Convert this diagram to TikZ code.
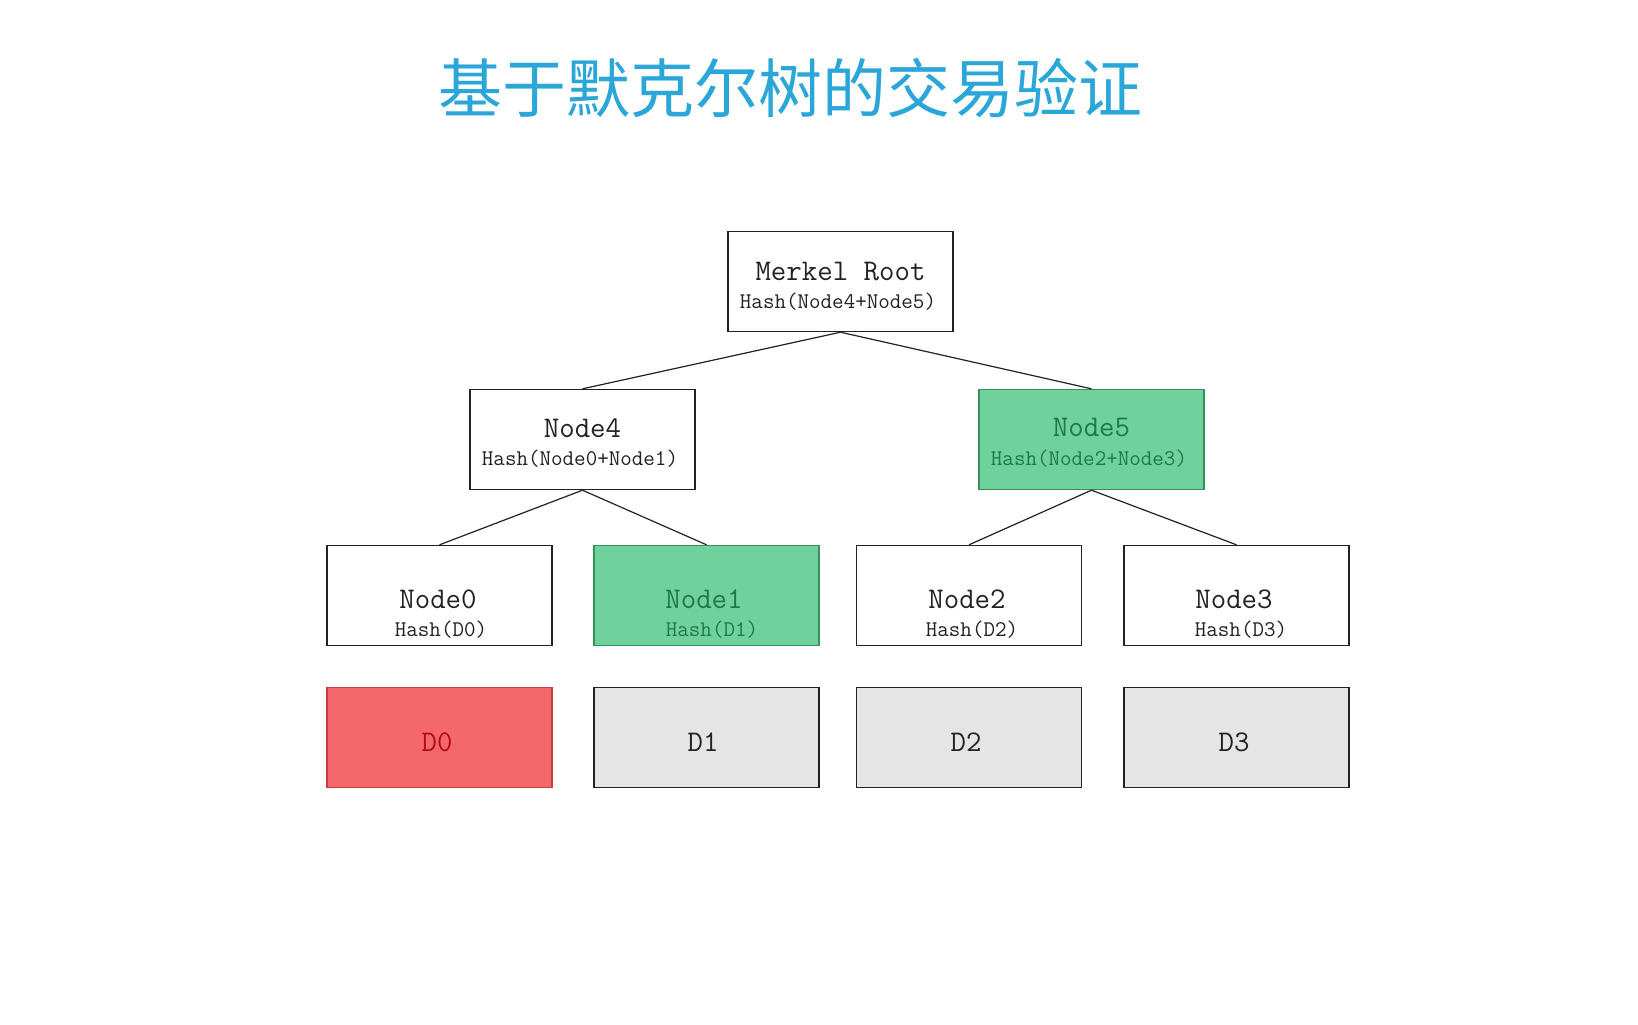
\documentclass[tikz,border=0pt]{standalone}
\usepackage{fontspec}
\newfontfamily\cjk{Noto Sans CJK SC}
\setmonofont{Latin Modern Mono}
\definecolor{titleblue}{HTML}{2AA6D8}
\definecolor{greenfill}{HTML}{6FD19B}
\definecolor{greenline}{HTML}{3A8F5E}
\definecolor{greentext}{HTML}{1E7A45}
\definecolor{redfill}{HTML}{F4676A}
\definecolor{redline}{HTML}{C83C40}
\definecolor{redtext}{HTML}{B00E14}
\definecolor{grayfill}{HTML}{E6E5E5}
\definecolor{inkdark}{HTML}{222222}
\tikzset{
  box/.style={draw=inkdark, line width=0.7pt, rectangle, minimum width=112.5pt, minimum height=50pt, inner sep=0pt, fill=white},
  gbox/.style={box, draw=greenline, fill=greenfill},
  rbox/.style={box, draw=redline, fill=redfill},
  dbox/.style={box, fill=grayfill},
  bigtxt/.style={font=\ttfamily\fontsize{15}{17}\selectfont, text=inkdark, inner sep=0pt},
  smalltxt/.style={font=\ttfamily\fontsize{11.2}{13}\selectfont, text=inkdark, inner sep=0pt},
  edge/.style={draw=inkdark, line width=0.6pt}
}
\begin{document}
\begin{tikzpicture}[x=0.5pt,y=-0.5pt]
\useasboundingbox[fill=white] (0,0) rectangle (1638,1024);
\node[font=\cjk\fontsize{32}{37}\selectfont, text=titleblue, inner sep=0pt] (title) at (790,88) {基于默克尔树的交易验证};
% boxes
\node[box] (root) at (840.5,281.5) {};
\node[box] (n4) at (582.5,439.5) {};
\node[gbox] (n5) at (1091.5,439.5) {};
\node[box] (n0) at (439.5,595.5) {};
\node[gbox] (n1) at (706.5,595.5) {};
\node[box] (n2) at (969,595.5) {};
\node[box] (n3) at (1236.5,595.5) {};
\node[rbox] (d0) at (439.5,737.5) {};
\node[dbox] (d1) at (706.5,737.5) {};
\node[dbox] (d2) at (969,737.5) {};
\node[dbox] (d3) at (1236.5,737.5) {};
% connectors
\draw[edge] (root.south) -- (n4.north);
\draw[edge] (root.south) -- (n5.north);
\draw[edge] (n4.south) -- (n0.north);
\draw[edge] (n4.south) -- (n1.north);
\draw[edge] (n5.south) -- (n2.north);
\draw[edge] (n5.south) -- (n3.north);
% texts
\node[bigtxt] (troot) at (840.5,272) {Merkel Root};
\node[smalltxt] (hroot) at (838,302) {Hash(Node4+Node5)};
\node[bigtxt] (t4) at (582.5,428) {Node4};
\node[smalltxt] (h4) at (580,459) {Hash(Node0+Node1)};
\node[bigtxt, text=greentext] (t5) at (1091.5,428) {Node5};
\node[smalltxt, text=greentext] (h5) at (1089,459) {Hash(Node2+Node3)};
\node[bigtxt] (t0) at (438,599) {Node0};
\node[smalltxt] (h0) at (441,630) {Hash(D0)};
\node[bigtxt, text=greentext] (t1) at (704,599) {Node1};
\node[smalltxt, text=greentext] (h1) at (712,630) {Hash(D1)};
\node[bigtxt] (t2) at (967,599) {Node2};
\node[smalltxt] (h2) at (972,630) {Hash(D2)};
\node[bigtxt] (t3) at (1234,599) {Node3};
\node[smalltxt] (h3) at (1241,630) {Hash(D3)};
\node[bigtxt, text=redtext] (td0) at (437,742) {D0};
\node[bigtxt] (td1) at (703,742) {D1};
\node[bigtxt] (td2) at (966,742) {D2};
\node[bigtxt] (td3) at (1234,742) {D3};
\end{tikzpicture}
\end{document}
